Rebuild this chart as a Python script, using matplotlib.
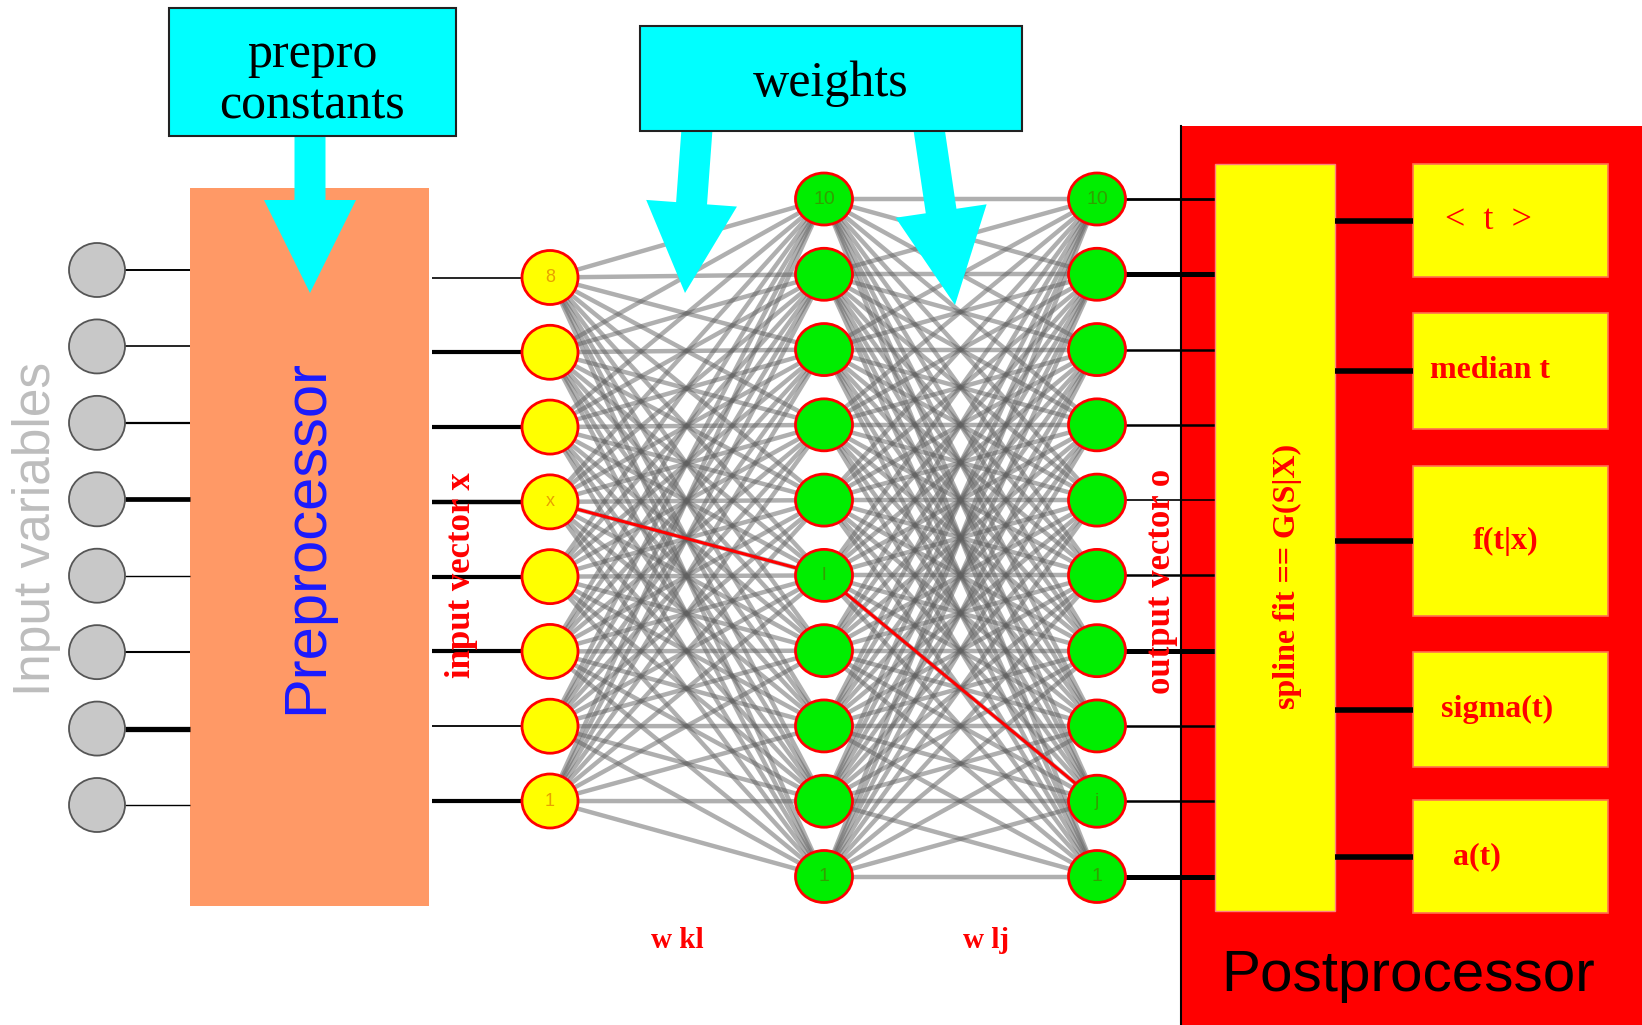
import matplotlib
matplotlib.use('Agg')
import matplotlib.pyplot as plt
from matplotlib.patches import Rectangle, Ellipse, FancyArrow
import numpy as np

# ---------------- data ----------------
input_variables = 8
input_layer_labels = ['8', '', '', 'x', '', '', '', '1']            # top -> bottom
hidden_layer_labels = ['10', '', '', '', '', 'l', '', '', '', '1']
output_layer_labels = ['10', '', '', '', '', '', '', '', 'j', '1']
input_line_widths = [1.4, 1.2, 1.6, 3.4, 1.0, 1.5, 3.8, 1.0]
prepro_out_widths = [1.2, 3.0, 3.0, 3.2, 3.0, 3.0, 1.3, 3.0]
output_line_widths = [2.0, 3.6, 1.8, 1.8, 1.2, 1.8, 3.6, 1.8, 1.8, 3.6]
post_quantities = ['<  t  >', 'median t', 'f(t|x)', 'sigma(t)', 'a(t)']
post_label_bold = [False, True, True, True, True]
highlight_path = [3, 5, 8]   # x -> l -> j (indices from top)
layer_titles = ['input vector x', 'output vector o']
weight_labels = ['w kl', 'w lj']

# ---------------- layout ----------------
W, H = 1642, 1025
fig = plt.figure(figsize=(W / 100, H / 100), dpi=100)
ax = fig.add_axes([0, 0, 1, 1])
ax.set_xlim(0, W)
ax.set_ylim(H, 0)
ax.axis('off')

SERIF = ['Liberation Serif', 'DejaVu Serif']
SANS = ['Liberation Sans', 'DejaVu Sans']

x_in, x_l1, x_h, x_o = 97, 550, 824, 1097
y_in = np.linspace(270, 805, input_variables)
y_l1 = np.linspace(277.5, 801, len(input_layer_labels))
y_h = np.linspace(199, 876.5, len(hidden_layer_labels))
y_o = np.linspace(199, 876.5, len(output_layer_labels))
post_label_x = [1488, 1490, 1506, 1497, 1477]

# Postprocessor background
ax.add_patch(Rectangle((1181, 126), W - 1181, H - 126, fc='#FF0000', ec='none', zorder=0))
ax.plot([1181, 1181], [126, H], color='black', lw=1.5, zorder=1)

# Preprocessor box
ax.add_patch(Rectangle((190, 188), 239, 718, fc='#FF9966', ec='none', zorder=1))
ax.text(307, 537, 'Preprocessor', rotation=90, ha='center', va='center',
        fontsize=43, color='#1a1aff', family=SANS, zorder=4)

# Input variables
ax.text(37, 529, 'Input variables', rotation=90, ha='center', va='center',
        fontsize=37, color='#BDBDBD', family=SANS)
for y, lw in zip(y_in, input_line_widths):
    ax.plot([125, 190], [y, y], color='black', lw=lw, zorder=2, solid_capstyle='butt')
    ax.add_patch(Ellipse((x_in, y), 56, 54, fc='#C8C8C8', ec='#555555', lw=1.3, zorder=3))

# preprocessor -> input layer
for y, lw in zip(y_l1, prepro_out_widths):
    ax.plot([432, x_l1], [y, y], color='black', lw=lw, zorder=2, solid_capstyle='butt')

# weight meshes
mesh_kw = dict(color='#606060', lw=3.2, alpha=0.5, zorder=1, solid_capstyle='butt')
for ya in y_l1:
    for yb in y_h:
        ax.plot([x_l1, x_h], [ya, yb], **mesh_kw)
for ya in y_h:
    for yb in y_o:
        ax.plot([x_h, x_o], [ya, yb], **mesh_kw)

# highlighted path
i, l, j = highlight_path
ax.plot([x_l1, x_h, x_o], [y_l1[i], y_h[l], y_o[j]], color='#FF0000', lw=2.2, zorder=2)

# nodes
for y, lab in zip(y_l1, input_layer_labels):
    ax.add_patch(Ellipse((x_l1, y), 56, 54, fc='#FFFF00', ec='#FF0000', lw=2, zorder=3))
    if lab:
        ax.text(x_l1, y, lab, ha='center', va='center', fontsize=13, color='#E8A000',
                family=SANS, zorder=4)
for xs, ys, labs in [(x_h, y_h, hidden_layer_labels), (x_o, y_o, output_layer_labels)]:
    for y, lab in zip(ys, labs):
        ax.add_patch(Ellipse((xs, y), 57, 52, fc='#00EE00', ec='#FF0000', lw=2, zorder=3))
        if lab:
            ax.text(xs, y, lab, ha='center', va='center', fontsize=14, color='#30A000',
                    family=SANS, zorder=4)

# output nodes -> spline box
for y, lw in zip(y_o, output_line_widths):
    ax.plot([x_o + 28, 1215], [y, y], color='black', lw=lw, zorder=2, solid_capstyle='butt')

# layer titles
ax.text(461, 575, layer_titles[0], rotation=90, ha='center', va='center', fontsize=25,
        color='#FF0000', weight='bold', family=SERIF, zorder=4)
ax.text(1161, 581, layer_titles[1], rotation=90, ha='center', va='center', fontsize=25,
        color='#FF0000', weight='bold', family=SERIF, zorder=4)
ax.text(677, 940, weight_labels[0], ha='center', va='center', fontsize=21,
        color='#FF0000', weight='bold', family=SERIF)
ax.text(986, 940, weight_labels[1], ha='center', va='center', fontsize=21,
        color='#FF0000', weight='bold', family=SERIF)

# spline box
ax.add_patch(Rectangle((1215, 164), 120, 747, fc='#FFFF00', ec='#FF8080', lw=1, zorder=2))
ax.text(1287, 576, 'spline fit == G(S|X)', rotation=90, ha='center', va='center',
        fontsize=23, color='#FF0000', weight='bold', family=SERIF, zorder=4)

# output quantities
boxes = [(164, 277), (313, 429), (466, 616), (652, 767), (800, 913)]
for (y0, y1), lab, bold, xl in zip(boxes, post_quantities, post_label_bold, post_label_x):
    yc = (y0 + y1) / 2
    ax.add_patch(Rectangle((1413, y0), 195, y1 - y0, fc='#FFFF00', ec='#FF7050', lw=1.2, zorder=2))
    ax.plot([1335, 1413], [yc, yc], color='black', lw=4, zorder=3, solid_capstyle='butt')
    ax.text(xl, yc, lab, ha='center', va='center', fontsize=23 if bold else 26,
            color='#FF0000', weight='bold' if bold else 'normal', family=SERIF, zorder=4)

ax.text(1408, 976, 'Postprocessor', ha='center', va='center', fontsize=42,
        color='black', family=SANS, zorder=4)

# top boxes
ax.add_patch(Rectangle((169, 8), 287, 128, fc='#00FFFF', ec='#222222', lw=1.5, zorder=6))
ax.text(312, 55, 'prepro', ha='center', va='center', fontsize=36, family=SERIF, zorder=7)
ax.text(312, 106, 'constants', ha='center', va='center', fontsize=36, family=SERIF, zorder=7)
ax.add_patch(Rectangle((640, 26), 382, 105, fc='#00FFFF', ec='#222222', lw=1.5, zorder=6))
ax.text(831, 84, 'weights', ha='center', va='center', fontsize=36, family=SERIF, zorder=7)

# arrows
arrow_kw = dict(length_includes_head=True, fc='#00FFFF', ec='none', zorder=5)
ax.add_patch(FancyArrow(310, 134, 0, 159, width=31, head_width=92, head_length=93, **arrow_kw))
ax.add_patch(FancyArrow(697, 129, -12, 164, width=31, head_width=91, head_length=90, **arrow_kw))
ax.add_patch(FancyArrow(929, 129, 26, 176, width=31, head_width=92, head_length=95, **arrow_kw))

fig.savefig('out.png', dpi=100)
